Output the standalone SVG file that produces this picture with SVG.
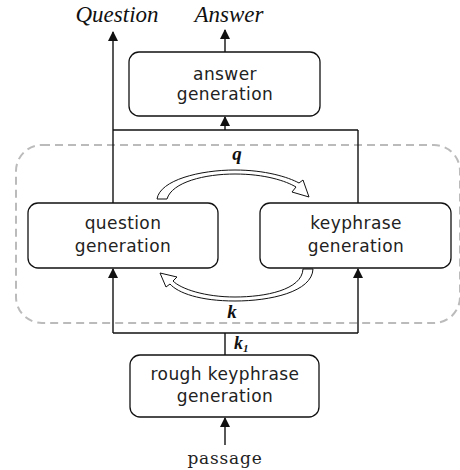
<svg xmlns="http://www.w3.org/2000/svg" width="460" height="470" viewBox="0 0 460 470">
<defs>
<style>
.box{fill:#fff;stroke:#111;stroke-width:1.3}
.lbl{font-family:"DejaVu Sans",sans-serif;font-size:17px;letter-spacing:0.4px;fill:#222;text-anchor:middle}
.ital{font-family:"Liberation Serif",serif;font-style:italic;fill:#111}
.ln{fill:none;stroke:#111;stroke-width:1.4}
.hollow{fill:#fff;stroke:#111;stroke-width:1}
</style>
<marker id="ah" viewBox="0 0 10 10" refX="9" refY="5" markerWidth="10" markerHeight="10" markerUnits="userSpaceOnUse" orient="auto">
<path d="M0,0 L10,5 L0,10 Z" fill="#111"/>
</marker>
</defs>
<rect x="16" y="145" width="444" height="178" rx="26" fill="none" stroke="#bbb" stroke-width="2" stroke-dasharray="8,5"/>
<g id="connectors">
<line class="ln" x1="113" y1="130" x2="113" y2="32" marker-end="url(#ah)"/>
<line class="ln" x1="113" y1="130" x2="358" y2="130"/>
<line class="ln" x1="358" y1="130" x2="358" y2="203"/>
<line class="ln" x1="113" y1="130" x2="113" y2="203"/>
<line class="ln" x1="225" y1="130" x2="225" y2="117" marker-end="url(#ah)"/>
<line class="ln" x1="225" y1="52" x2="225" y2="30" marker-end="url(#ah)"/>
<line class="ln" x1="113" y1="333" x2="358" y2="333"/>
<line class="ln" x1="113" y1="333" x2="113" y2="269" marker-end="url(#ah)"/>
<line class="ln" x1="358" y1="333" x2="358" y2="269" marker-end="url(#ah)"/>
<line class="ln" x1="225" y1="355" x2="225" y2="333"/>
<line class="ln" x1="225" y1="445" x2="225" y2="418" marker-end="url(#ah)"/>
<path class="hollow" d="M157,199 C160,180 200,170 235,170 C265,170 288,177 299,183 L303,180 L309,197 L292,192 L296,187 C286,181 265,174 235,174 C205,174 172,182 167,199 Z"/>
<path class="hollow" d="M313,269 C312,292 270,301 235,301 C200,301 178,293 170,284 L166,287 L160,273 L177,277 L173,281 C181,289 205,297 235,297 C265,297 302,290 303,269 Z"/>
<text class="ital" x="237" y="160" font-size="19" font-weight="bold" text-anchor="middle">q</text>
<text class="ital" x="232" y="318" font-size="19" font-weight="bold" text-anchor="middle">k</text>
<text class="ital" x="234" y="349" font-size="18" font-weight="bold">k<tspan font-size="11" dy="3">1</tspan></text>
</g>
<text class="ital" x="117" y="22" font-size="23" text-anchor="middle">Question</text>
<text class="ital" x="229" y="22" font-size="23" text-anchor="middle">Answer</text>
<g id="answer">
<rect class="box" x="129" y="52" width="191" height="64" rx="10"/>
<text class="lbl" x="225" y="80">answer</text>
<text class="lbl" x="225" y="100">generation</text>
</g>
<g id="question">
<rect class="box" x="28" y="203" width="190" height="65" rx="10"/>
<text class="lbl" x="123" y="229">question</text>
<text class="lbl" x="123" y="252">generation</text>
</g>
<g id="keyphrase">
<rect class="box" x="260" y="203" width="191" height="65" rx="10"/>
<text class="lbl" x="356" y="229">keyphrase</text>
<text class="lbl" x="356" y="252">generation</text>
</g>
<g id="rough">
<rect class="box" x="130" y="355" width="189" height="62" rx="10"/>
<text class="lbl" x="225" y="380">rough keyphrase</text>
<text class="lbl" x="225" y="402">generation</text>
</g>
<text x="225" y="464" font-family="'DejaVu Serif',serif" font-size="17" letter-spacing="0.8" fill="#222" text-anchor="middle">passage</text>
</svg>
